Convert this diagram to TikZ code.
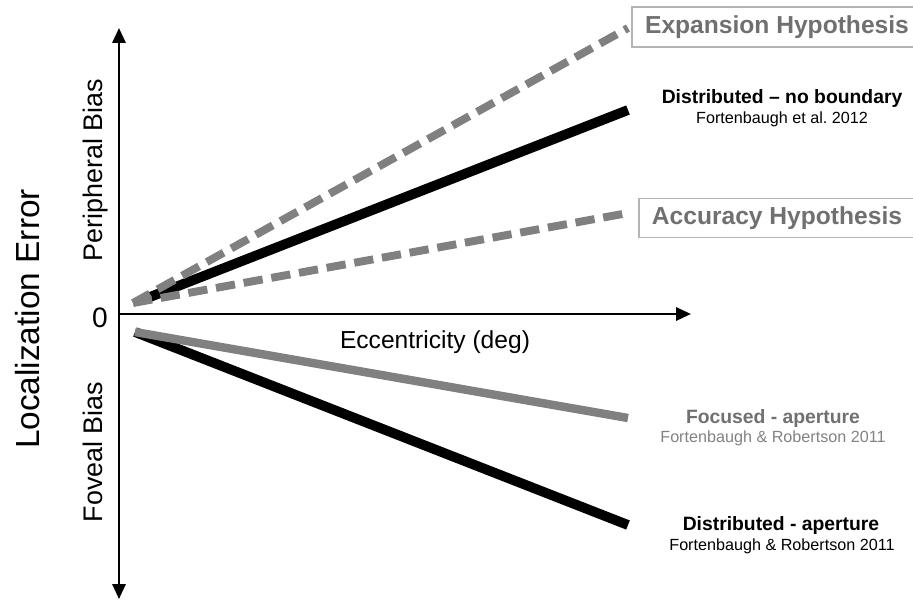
\documentclass[tikz,border=0pt]{standalone}
\usepackage{fontspec}
\setmainfont{Liberation Sans}
\usetikzlibrary{arrows.meta,positioning}
\definecolor{linegray}{RGB}{128,128,128}
\definecolor{textgray}{RGB}{112,112,112}
\definecolor{reftextgray}{RGB}{130,130,130}
\definecolor{boxgray}{RGB}{180,180,180}
\frenchspacing
\tikzset{
	tip/.style={-{Triangle[width=7.5pt,length=8.5pt]}},
	axisline/.style={line width=1.4pt},
	solidblack/.style={line width=5.6pt,black},
	solidgray/.style={line width=4.8pt,linegray},
	dashgray/.style={line width=4.5pt,linegray,dash pattern=on 11pt off 5pt},
	hypbox/.style={draw=boxgray,line width=0.6pt,text=textgray,font=\fontsize{14}{16}\selectfont\bfseries,inner sep=0pt},
	modeltitle/.style={font=\fontsize{11}{13}\selectfont\bfseries,inner sep=0pt},
	modelref/.style={font=\fontsize{9.2}{11}\selectfont,inner sep=0pt}
}
\begin{document}
\begin{tikzpicture}[x=0.02cm,y=-0.02cm]
	\useasboundingbox (0,0) rectangle (913,599);
	\coordinate (origin) at (119,314);
	\coordinate (ytop) at (119,28);
	\coordinate (ybottom) at (119,599);
	\coordinate (xend) at (691,314);
	\coordinate (upstart) at (133,303);
	\coordinate (nbstart) at (150,297);
	\coordinate (downstart) at (135,332);
	\coordinate (expend) at (628,28);
	\coordinate (nbend) at (628,110);
	\coordinate (accend) at (628,213);
	\coordinate (focend) at (628,418);
	\coordinate (apend) at (628,525);
	\draw[axisline,{Triangle[width=7.5pt,length=8.5pt]}-{Triangle[width=7.5pt,length=8.5pt]}] (ytop) -- (ybottom);
	\draw[axisline,tip] (origin) -- (xend);
	\draw[solidblack] (nbstart) -- (nbend);
	\draw[dashgray] (upstart) -- (expend);
	\draw[dashgray] (upstart) -- (accend);
	\draw[solidblack] (downstart) -- (apend);
	\draw[solidgray] (downstart) -- (focend);
	\node[inner sep=0pt,font=\fontsize{16}{18}\selectfont] (zero) at (100,318) {0};
	\node[inner sep=0pt,font=\fontsize{14}{16}\selectfont] (xlabel) at (435,342) {Eccentricity (deg)};
	\node[inner sep=0pt,rotate=90,font=\fontsize{19}{21}\selectfont] (ylabel) at (28,319) {Localization Error};
	\node[inner sep=0pt,rotate=90,anchor=base,font=\fontsize{15.3}{17}\selectfont] (periph) at (102,170) {Peripheral Bias};
	\node[inner sep=0pt,rotate=90,anchor=base,font=\fontsize{15.3}{17}\selectfont] (foveal) at (102,452) {Foveal Bias};
	\node[hypbox,minimum width=290*0.02cm,minimum height=40*0.02cm] (exphyp) at (777,27) {Expansion Hypothesis};
	\node[hypbox,minimum width=276*0.02cm,minimum height=39*0.02cm] (acchyp) at (777,218) {Accuracy Hypothesis};
	\node[modeltitle] (nbtitle) at (782,98) {Distributed – no boundary};
	\node[modelref] (nbref) at (782,119) {Fortenbaugh et al. 2012};
	\node[modeltitle,text=textgray] (foctitle) at (773,418) {Focused - aperture};
	\node[modelref,text=reftextgray] (focref) at (773,438) {Fortenbaugh \& Robertson 2011};
	\node[modeltitle] (aptitle) at (781,525) {Distributed - aperture};
	\node[modelref] (apref) at (782,546) {Fortenbaugh \& Robertson 2011};
\end{tikzpicture}
\end{document}
